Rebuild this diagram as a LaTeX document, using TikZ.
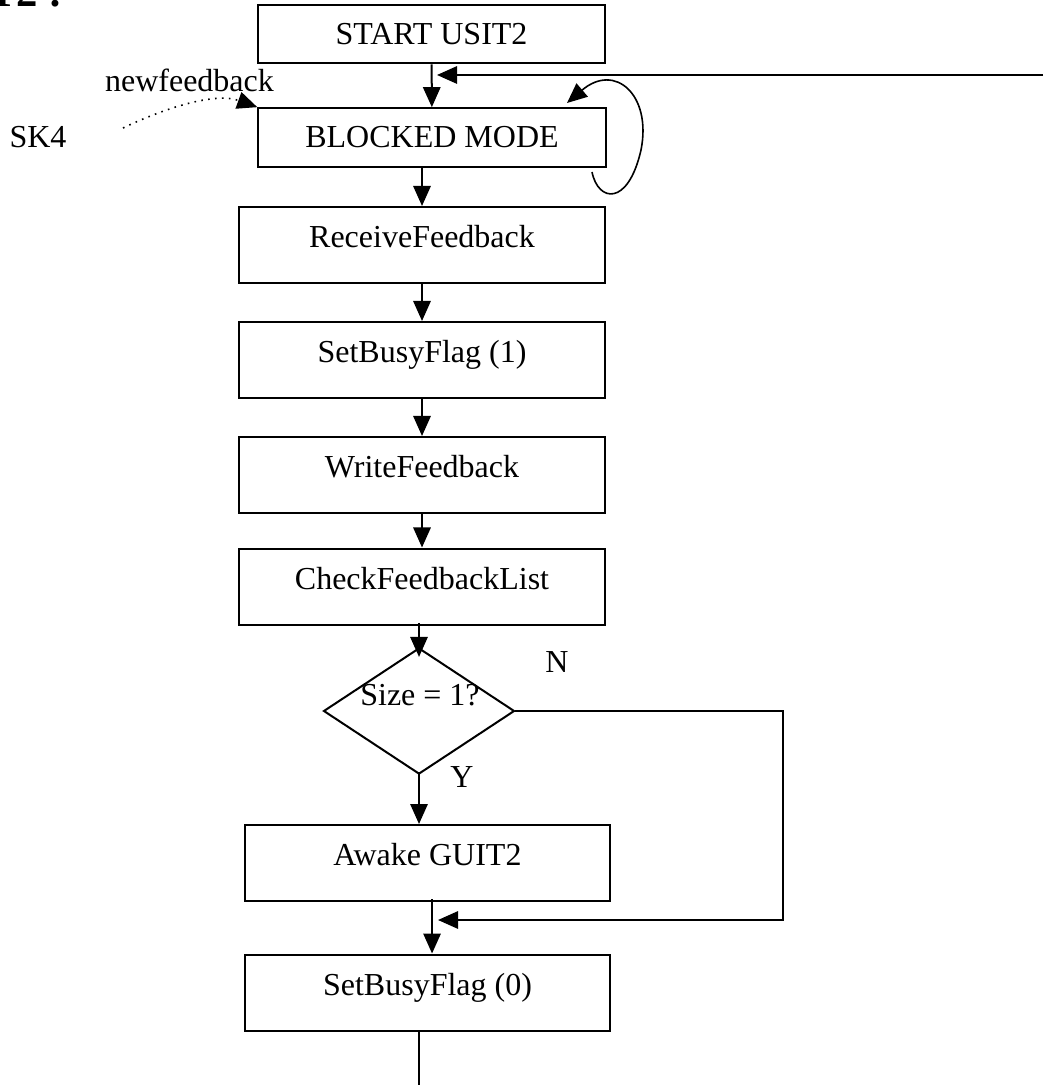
\documentclass[tikz,border=0pt]{standalone}
\usepackage{fontspec}
\setmainfont{Liberation Serif}
\usetikzlibrary{arrows.meta, shapes.geometric}

\begin{document}
\begin{tikzpicture}[
    x=0.375pt, y=-0.375pt,
    font=\fontsize{12}{14.4}\selectfont,
    line width=0.75pt,
    procbox/.style={rectangle, draw, minimum width=137pt, minimum height=28.5pt, text height=8pt, text depth=6pt},
    smallbox/.style={rectangle, draw, minimum width=130.3pt, minimum height=22pt},
    decision/.style={diamond, draw, minimum width=71.6pt, minimum height=47.3pt, inner sep=0pt},
    arr/.style={-{Triangle[length=7.5pt, width=6.5pt]}}
]
    \useasboundingbox (0,0) rectangle (1043,1085);
    % Heading (cut off at the top)
    \node[anchor=base east, font=\bfseries\fontsize{16}{19}\selectfont] (title) at (73,7) {USIT2 :};
    % Boxes
    \node[smallbox] (start) at (431.5,34) {START USIT2};
    \node[smallbox] (blocked) at (432,137.5) {BLOCKED MODE};
    \node[procbox] (receive) at (422,245) {ReceiveFeedback};
    \node[procbox] (busyon) at (422,360) {SetBusyFlag (1)};
    \node[procbox] (write) at (422,475) {WriteFeedback};
    \node[procbox] (check) at (422,586.5) {CheckFeedbackList};
    \node[decision] (dec) at (419,711) {};
    \node (sizeq) at (420,695) {Size = 1?};
    \node[procbox] (awake) at (427.5,863) {Awake GUIT2};
    \node[procbox] (busyoff) at (427.5,992.5) {SetBusyFlag (0)};
    % Labels
    \node (newfb) at (189.5,80) {newfeedback};
    \node (sk) at (38,137) {SK4};
    \node (no) at (557,662) {N};
    \node (yes) at (462,777) {Y};
    % Free ends
    \coordinate (fbin) at (1043,75);
    \coordinate (fbtip) at (437,75);
    \coordinate (ncorner) at (783,711);
    \coordinate (ntip) at (438,920);
    \coordinate (skfree) at (123,128);
    \coordinate (loopstart) at (592,172);
    \coordinate (loopend) at (567,103);
    \coordinate (exit) at (419,1085);
    % Edges
    \draw[arr] (start) -- (blocked);
    \draw[arr] (fbin) -- (fbtip);
    \draw[arr] (blocked.south -| receive.north) -- (receive);
    \draw[arr] (receive) -- (busyon);
    \draw[arr] (busyon) -- (write);
    \draw[arr] (write) -- (check);
    \draw[arr] ([yshift=1pt]check.south -| dec.north) -- ([yshift=-3.75pt]dec.north);
    \draw[arr] ([yshift=1pt]dec.south) -- (dec.south |- awake.north);
    \draw[arr] (dec.east) -- (ncorner) |- (ntip);
    \draw[arr] ([xshift=1.7pt, yshift=1pt]awake.south) -- ([xshift=1.7pt]busyoff.north);
    \draw (busyoff.south -| exit) -- (exit);
    \draw[arr, dotted, line width=0.6pt] (skfree) .. controls (165,108) and (215,92) .. (blocked.north west);
    \draw[arr, line width=0.6pt] (loopstart) .. controls (598,202) and (628,207) .. (641,150)
        .. controls (652,95) and (615,62) .. (loopend);
\end{tikzpicture}
\end{document}
